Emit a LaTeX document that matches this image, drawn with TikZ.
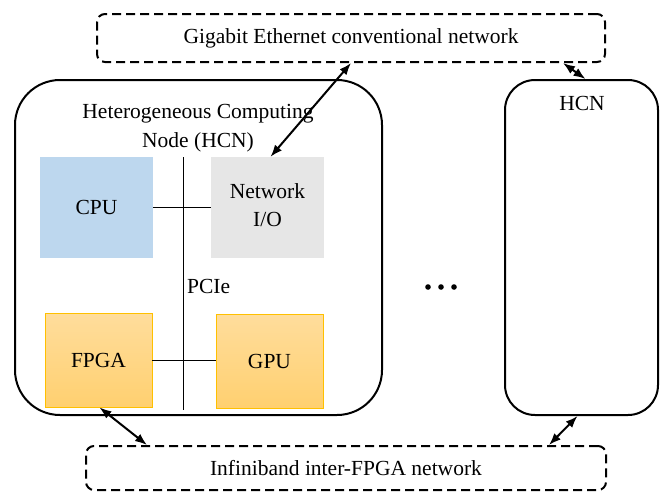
\documentclass[tikz,border=0pt]{standalone}
\usepackage{fontspec}
\setmainfont{Liberation Serif}
\usetikzlibrary{arrows.meta,calc}

\definecolor{cpublue}{HTML}{BDD7EE}
\definecolor{iogray}{HTML}{E6E6E6}
\definecolor{acctop}{HTML}{FFDD9C}
\definecolor{accbot}{HTML}{FFD070}
\definecolor{accedge}{HTML}{FFC000}

\tikzset{
  netbox/.style={draw, dash pattern=on 9pt off 5pt, line width=2pt,
    rounded corners=8pt, inner sep=0pt},
  hcnbox/.style={draw, line width=2pt, inner sep=0pt},
  unit/.style={inner sep=0pt, align=center},
  accel/.style={unit, draw=accedge, line width=0.8pt, top color=acctop, bottom color=accbot},
  bus/.style={line width=1pt},
  link/.style={line width=2pt, {Latex[length=12pt,width=9pt]}-{Latex[length=12pt,width=9pt]}}
}

\begin{document}
\begin{tikzpicture}[x=1pt,y=-1pt,font=\fontsize{21.5}{28.5}\selectfont]
\useasboundingbox (0,0) rectangle (660,493);

% networks
\node[netbox, minimum width=508pt, minimum height=48pt] (eth) at (351,38)
  {Gigabit Ethernet conventional network};
\node[netbox, minimum width=520pt, minimum height=44pt] (ib) at (346,468)
  {Infiniband inter-FPGA network};

% computing nodes
\node[hcnbox, rounded corners=45pt, minimum width=367pt, minimum height=335pt] (hcnL) at (198.5,247.5) {};
\node[unit] (hcnLtitle) at (198,128) {Heterogeneous Computing\\Node (HCN)};
\node[hcnbox, rounded corners=30pt, minimum width=153pt, minimum height=335pt] (hcnR) at (581.5,247.5) {};
\node[unit] (hcnRtitle) at (582,103) {HCN};

% units inside the node
\node[unit, fill=cpublue, minimum width=113pt, minimum height=101pt] (cpu) at (96.5,207.5) {CPU};
\node[unit, fill=iogray, minimum width=113pt, minimum height=101pt] (nio) at (267.5,207.5) {};
\node[unit] (niotext) at (267.5,205) {Network\\I/O};
\node[accel, minimum width=107pt, minimum height=94pt] (fpga) at (98.5,360) {FPGA};
\node[accel, minimum width=107pt, minimum height=94pt] (gpu) at (269.5,361) {GPU};

% PCIe bus
\coordinate (pciTop) at (183,157);
\coordinate (pciBot) at (183,410);
\draw[bus] (pciTop) -- (pciBot);
\node[unit, anchor=west] (pcie) at (187,286) {PCIe};
\draw[bus] (cpu.east) -- (nio.west);
\draw[bus] (fpga.east) -- (gpu.west |- fpga.east);

% links to the networks
\draw[link] (eth.south) -- ($(nio.north)+(3,0)$);
\draw[link] ($(eth.south east)+(-43,0)$) -- ($(hcnR.north)+(4,0)$);
\draw[link] ($(fpga.south)+(1,0)$) -- ($(ib.north west)+(62,0)$);
\draw[link] ($(hcnR.south)+(-4,0)$) -- ($(ib.north east)+(-58,0)$);

% further nodes
\foreach \x in {428,441,454} \fill (\x,287) circle (2.8pt);
\end{tikzpicture}
\end{document}
